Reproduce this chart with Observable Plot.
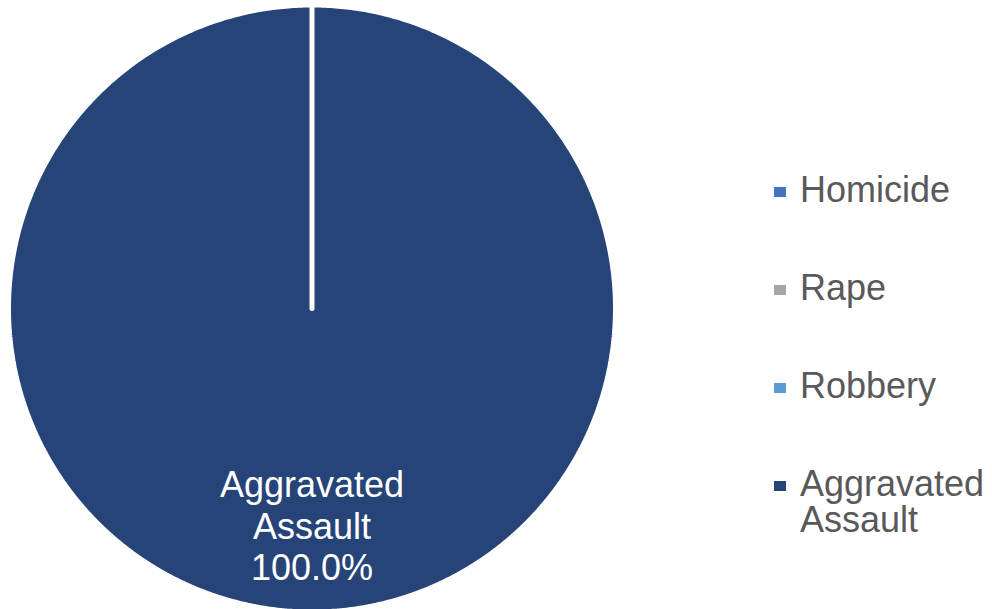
<!DOCTYPE html>
<html>
<head>
<meta charset="utf-8">
<script src="https://cdn.jsdelivr.net/npm/d3@7"></script>
<script src="https://cdn.jsdelivr.net/npm/@observablehq/plot@0.6"></script>
<style>
  html, body { margin: 0; padding: 0; background: #fff; }
  #wrap { position: relative; width: 992px; height: 609px; overflow: hidden; }
  #legend { position: absolute; left: 774px; top: 172px; font-family: "Liberation Sans", Arial, sans-serif; font-size: 36px; line-height: 36px; color: #595959; }
  .item { position: relative; padding-left: 26px; margin-bottom: 62px; white-space: nowrap; }
  .sw { position: absolute; left: 0; top: 15px; width: 12px; height: 10px; }
</style>
</head>
<body>
<div id="wrap"><div id="chart"></div><div id="legend"></div></div>
<script>
const categories = ["Homicide", "Rape", "Robbery", "Aggravated Assault"];
const values = [0, 0, 0, 100];
const colors = ["#4472C4", "#A5A5A5", "#5B9BD5", "#264478"];
const legendLabels = ["Homicide", "Rape", "Robbery", "Aggravated<br>Assault"];

const data = categories.map((name, i) => ({name, value: values[i]}));
const total = d3.sum(values);
const arcs = d3.pie().sort(null).value(d => d.value).startAngle(0).endAngle(2 * Math.PI)(data);

// Build slice polygons in unit-circle data space
const pts = [];
for (const a of arcs) {
  const name = a.data.name;
  pts.push({name, x: 0, y: 0});
  const steps = Math.max(1, Math.ceil((a.endAngle - a.startAngle) / (Math.PI / 360)));
  for (let k = 0; k <= steps; k++) {
    const t = a.startAngle + (a.endAngle - a.startAngle) * k / steps;
    pts.push({name, x: Math.sin(t), y: Math.cos(t)});
  }
  pts.push({name, x: 0, y: 0});
}

// Labels for non-zero slices
const labels = arcs.filter(a => a.value > 0).map(a => {
  const mid = (a.startAngle + a.endAngle) / 2;
  const r = 0.715;
  const parts = a.data.name.split(" ");
  return {
    x: r * Math.sin(mid),
    y: r * Math.cos(mid),
    text: parts.join("\n") + "\n" + (a.value / total * 100).toFixed(1) + "%"
  };
});

const plot = Plot.plot({
  width: 992,
  height: 609,
  x: {domain: [-1, 1], range: [8, 615], axis: null},
  y: {domain: [-1, 1], range: [611.5, 4.5], axis: null},
  color: {domain: categories, range: colors},
  style: {fontFamily: "'Liberation Sans', Arial, sans-serif", background: "white"},
  marks: [
    Plot.line(pts, {x: "x", y: "y", z: "name", fill: "name", stroke: "white", strokeWidth: 5, strokeLinejoin: "miter", curve: "linear"}),
    Plot.text(labels, {x: "x", y: "y", text: "text", fill: "white", fontSize: 36, lineHeight: 1.15, textAnchor: "middle"})
  ]
});
document.getElementById("chart").appendChild(plot);

const legend = document.getElementById("legend");
categories.forEach((c, i) => {
  const div = document.createElement("div");
  div.className = "item";
  div.innerHTML = `<span class="sw" style="background:${colors[i]}"></span>${legendLabels[i]}`;
  legend.appendChild(div);
});
</script>
</body>
</html>
